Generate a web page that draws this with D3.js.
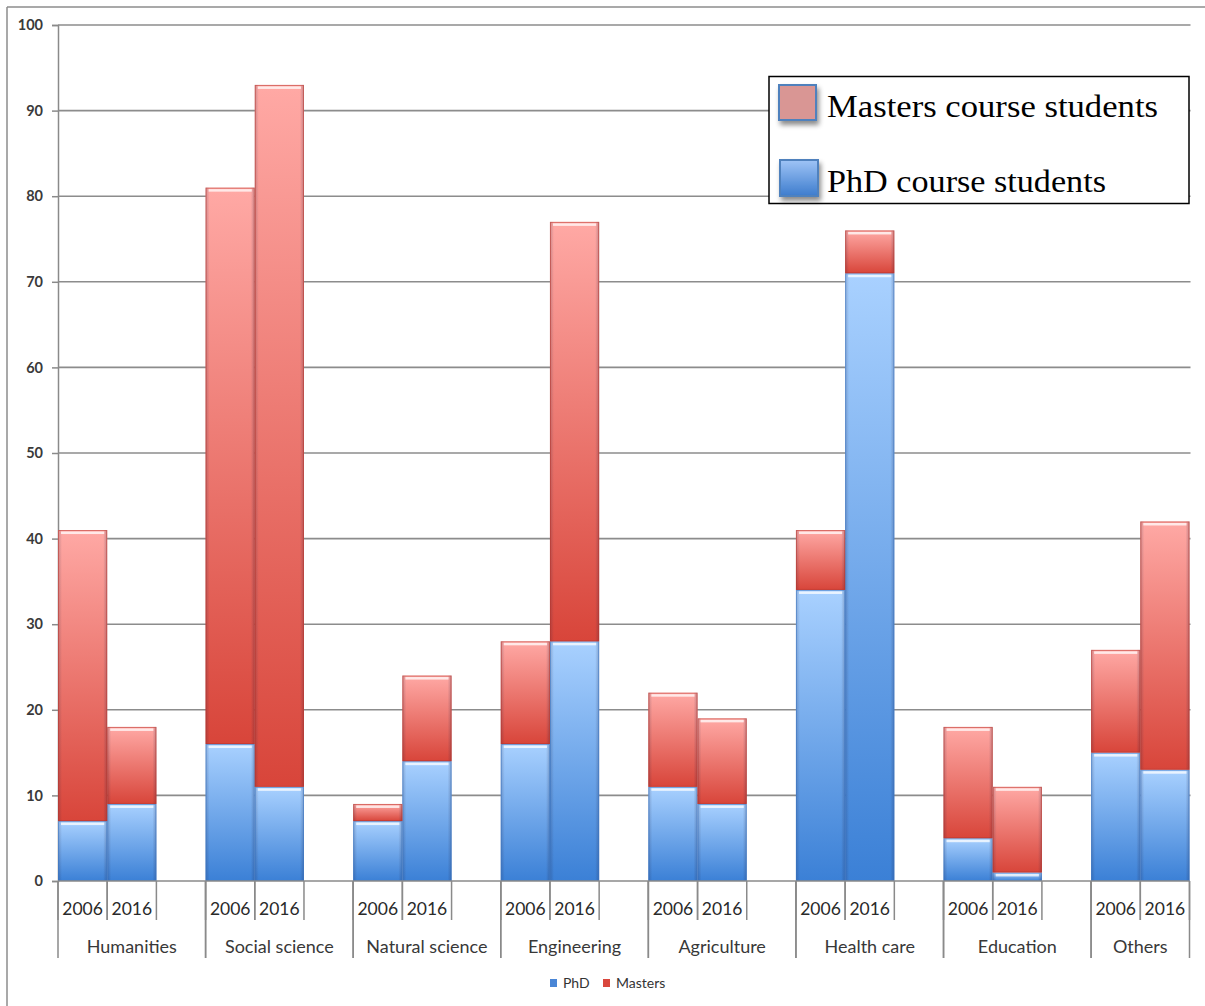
<!DOCTYPE html>
<html>
<head>
<meta charset="utf-8">
<script src="https://cdn.jsdelivr.net/npm/d3@7"></script>
<style>
  html, body { margin: 0; padding: 0; background: #fff; }
  svg { display: block; }
</style>
</head>
<body>
<svg id="chart" width="1205" height="1006"></svg>
<script>
// Students per field of study, stacked PhD + Masters, 2006 vs 2016
const categories = ["Humanities", "Social science", "Natural science", "Engineering",
                    "Agriculture", "Health care", "Education", "Others"];
const years = ["2006", "2016"];
const phd2006     = [7, 16, 7, 16, 11, 34, 5, 15];
const phd2016     = [9, 11, 14, 28, 9, 71, 1, 13];
const masters2006 = [34, 65, 2, 12, 11, 7, 13, 12];
const masters2016 = [9, 82, 10, 49, 10, 5, 10, 29];
const yTicks = [0, 10, 20, 30, 40, 50, 60, 70, 80, 90, 100];
const seriesNames = ["PhD", "Masters"];
const legendLabels = ["Masters course students", "PhD course students"];

// one row per bar, with an empty slot between field groups
const rows = [];
const slots = [];
categories.forEach((c, i) => {
  rows.push({ key: c + "|2006", cat: c, year: years[0], PhD: phd2006[i], Masters: masters2006[i] });
  rows.push({ key: c + "|2016", cat: c, year: years[1], PhD: phd2016[i], Masters: masters2016[i] });
  slots.push(c + "|2006", c + "|2016");
  if (i < categories.length - 1) slots.push(c + "|gap");
});

const svg = d3.select("#chart");
const plotL = 58, plotR = 1189.5, plotT = 25, plotB = 881;

const x = d3.scaleBand().domain(slots).range([plotL, plotR]).padding(0);
const y = d3.scaleLinear().domain([0, 100]).range([plotB, plotT]);

const defs = svg.append("defs");
function vGrad(id, c0, c1) {
  const g = defs.append("linearGradient").attr("id", id)
    .attr("x1", 0).attr("y1", 0).attr("x2", 0).attr("y2", 1);
  g.append("stop").attr("offset", "0%").attr("stop-color", c0);
  g.append("stop").attr("offset", "100%").attr("stop-color", c1);
}
vGrad("gMasters", "#ffa9a5", "#d8453a");
vGrad("gPhD", "#a9d1ff", "#3b80d6");
vGrad("gSwatchBlue", "#9fc4f6", "#3d7ccd");
// side shading to give the bars a bevelled look
const hg = defs.append("linearGradient").attr("id", "gBevel")
  .attr("x1", 0).attr("y1", 0).attr("x2", 1).attr("y2", 0);
[[0, 0.22], [0.08, 0.0], [0.92, 0.0], [1, 0.25]].forEach(([o, a]) =>
  hg.append("stop").attr("offset", o).attr("stop-color", "#202040").attr("stop-opacity", a));
const sh = defs.append("filter").attr("id", "shadow").attr("x", "-30%").attr("y", "-30%")
  .attr("width", "180%").attr("height", "180%");
sh.append("feDropShadow").attr("dx", 2).attr("dy", 4).attr("stdDeviation", 2.5)
  .attr("flood-color", "#000").attr("flood-opacity", 0.45);

// outer frame
svg.append("line").attr("x1", 7).attr("x2", 1205).attr("y1", 7).attr("y2", 7)
  .attr("stroke", "#8d8d8d").attr("stroke-width", 1.5);
svg.append("line").attr("x1", 7).attr("x2", 7).attr("y1", 7).attr("y2", 1006)
  .attr("stroke", "#8d8d8d").attr("stroke-width", 1.5);

// horizontal gridlines and y axis
const yAxis = d3.axisLeft(y).tickValues(yTicks).tickSize(6).tickPadding(9);
const gy = svg.append("g").attr("transform", `translate(${plotL},0)`).call(yAxis);
gy.select(".domain").attr("stroke", "#8a8a8a").attr("stroke-width", 1.5);
gy.selectAll(".tick line").attr("stroke", "#8a8a8a").attr("stroke-width", 1.5);
gy.selectAll(".tick text").attr("font-family", "Lato, 'Open Sans', sans-serif")
  .attr("font-size", 14.5).attr("font-weight", 700).attr("fill", "#3a3a3a");
svg.append("g").selectAll("line").data(yTicks.filter(d => d > 0)).join("line")
  .attr("x1", plotL).attr("x2", plotR + 1)
  .attr("y1", d => y(d)).attr("y2", d => y(d))
  .attr("stroke", "#8c8c8c").attr("stroke-width", 1.6);

// stacked bars
const stack = d3.stack().keys(seriesNames)(rows);
const fills = { PhD: "url(#gPhD)", Masters: "url(#gMasters)" };
const edge = { PhD: "#3c77c2", Masters: "#b8372e" };
const bars = svg.append("g");
stack.forEach(layer => {
  const key = layer.key;
  layer.forEach(d => {
    const x0 = x(d.data.key), w = x.bandwidth();
    const y0 = y(d[1]), h = y(d[0]) - y(d[1]);
    if (h <= 0) return;
    const g = bars.append("g");
    g.append("rect").attr("x", x0).attr("y", y0).attr("width", w).attr("height", h)
      .attr("fill", fills[key]);
    g.append("rect").attr("x", x0).attr("y", y0).attr("width", w).attr("height", h)
      .attr("fill", "url(#gBevel)");
    g.append("rect").attr("x", x0 + 0.5).attr("y", y0 + 0.5).attr("width", w - 1).attr("height", h - 1)
      .attr("fill", "none").attr("stroke", edge[key]).attr("stroke-opacity", 0.55).attr("stroke-width", 1);
    // glossy top highlight
    if (h > 4) {
      g.append("rect").attr("x", x0 + 3).attr("y", y0 + 1.5).attr("width", w - 6).attr("height", 2.5)
        .attr("fill", "#ffffff").attr("opacity", 0.75);
    }
  });
});

// x axis baseline
svg.append("line").attr("x1", plotL).attr("x2", plotR).attr("y1", plotB).attr("y2", plotB)
  .attr("stroke", "#8a8a8a").attr("stroke-width", 1.6);

// multi-level category axis
const axisFont = "Lato, 'Open Sans', sans-serif";
const ax = svg.append("g");
rows.forEach(r => {
  const x0 = x(r.key);
  ax.append("line").attr("x1", x0).attr("x2", x0).attr("y1", plotB).attr("y2", 920)
    .attr("stroke", "#8a8a8a").attr("stroke-width", 1.5);
  ax.append("line").attr("x1", x0 + x.bandwidth()).attr("x2", x0 + x.bandwidth())
    .attr("y1", plotB).attr("y2", 920).attr("stroke", "#8a8a8a").attr("stroke-width", 1.5);
  ax.append("text").attr("x", x0 + x.bandwidth() / 2).attr("y", 915)
    .attr("text-anchor", "middle").attr("font-family", axisFont).attr("font-size", 17.5)
    .attr("fill", "#2a2a2a").text(r.year);
});
categories.forEach((c, i) => {
  const gx0 = x(c + "|2006");
  const gx1 = i < categories.length - 1 ? x(categories[i + 1] + "|2006") : plotR;
  [gx0, gx1].forEach(v => ax.append("line").attr("x1", v).attr("x2", v)
    .attr("y1", plotB).attr("y2", 958).attr("stroke", "#8a8a8a").attr("stroke-width", 1.5));
  ax.append("text").attr("x", (gx0 + gx1) / 2).attr("y", 953)
    .attr("text-anchor", "middle").attr("font-family", axisFont).attr("font-size", 18)
    .attr("fill", "#383838").text(c);
});

// small series legend under the axis
const lg = svg.append("g").attr("font-family", axisFont).attr("font-size", 14).attr("fill", "#333");
const smallColors = { PhD: "#4a86d6", Masters: "#d9473d" };
[["PhD", 550, 563], ["Masters", 603, 616]].forEach(([n, sx, tx]) => {
  lg.append("rect").attr("x", sx).attr("y", 979).attr("width", 7).attr("height", 8)
    .attr("fill", smallColors[n]);
  lg.append("text").attr("x", tx).attr("y", 988).text(n);
});

// boxed legend
const box = svg.append("g");
box.append("rect").attr("x", 769).attr("y", 76.5).attr("width", 420).attr("height", 127)
  .attr("fill", "#fff").attr("stroke", "#000").attr("stroke-width", 1.5);
box.append("rect").attr("x", 779).attr("y", 85).attr("width", 37).attr("height", 35)
  .attr("fill", "#d99694").attr("stroke", "#4f81bd").attr("stroke-width", 2)
  .attr("filter", "url(#shadow)");
box.append("rect").attr("x", 780).attr("y", 160).attr("width", 38).attr("height", 36)
  .attr("fill", "url(#gSwatchBlue)").attr("stroke", "#4f81bd").attr("stroke-width", 2)
  .attr("filter", "url(#shadow)");
const serif = "'Liberation Serif', 'DejaVu Serif', serif";
box.append("text").attr("x", 827).attr("y", 117).attr("font-family", serif).attr("font-size", 31)
  .attr("textLength", 331).attr("lengthAdjust", "spacingAndGlyphs").attr("fill", "#000")
  .text(legendLabels[0]);
box.append("text").attr("x", 827).attr("y", 192).attr("font-family", serif).attr("font-size", 31)
  .attr("textLength", 279).attr("lengthAdjust", "spacingAndGlyphs").attr("fill", "#000")
  .text(legendLabels[1]);
</script>
</body>
</html>
